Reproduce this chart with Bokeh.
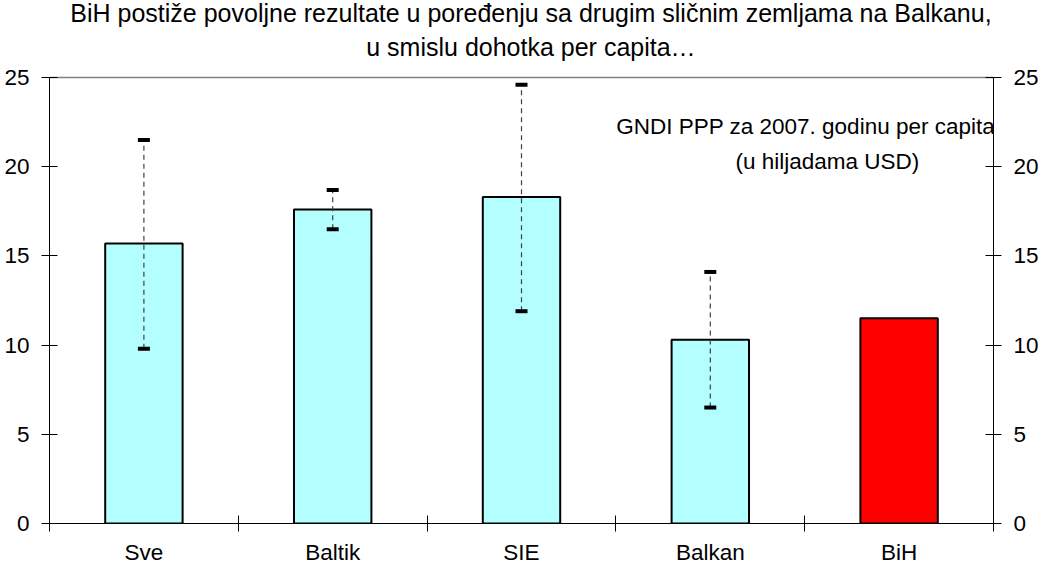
from bokeh.plotting import figure
from bokeh.models import (Range1d, FixedTicker, SingleIntervalTicker, LinearAxis,
                          Label, ColumnDataSource)
from bokeh.embed import file_html
from bokeh.resources import INLINE

# ---- data ----
categories = ["Sve", "Baltik", "SIE", "Balkan", "BiH"]
gndi_ppp = [15.7, 17.6, 18.3, 10.3, 11.5]          # thousands USD
range_high = [21.5, 18.7, 24.6, 14.1, None]
range_low = [9.8, 16.5, 11.9, 6.5, None]
y_min, y_max, y_step = 0, 25, 5

title_line1 = "BiH postiže povoljne rezultate u poređenju sa drugim sličnim zemljama na Balkanu,"
title_line2 = "u smislu dohotka per capita…"
note_line1 = "GNDI PPP za 2007. godinu per capita"
note_line2 = "(u hiljadama USD)"

FONT = "Liberation Sans"
TICK_FS = "22.5px"

n = len(categories)
xs = [i + 0.5 for i in range(n)]
fills = ["#FF0000" if c == "BiH" else "#B3FFFF" for c in categories]

# frame spans the full canvas height above the x axis; the value axis is
# bounded to 0..25 and the extra room on top holds the title text
PX_PER_UNIT = 447.7 / (y_max - y_min)
FRAME_H = 525
y_top = FRAME_H / PX_PER_UNIT

p = figure(width=1041, height=567, title=None,
           x_range=Range1d(0, n), y_range=Range1d(y_min, y_top),
           output_backend="svg", toolbar_location=None,
           min_border_left=49, min_border_right=45,
           min_border_top=0, min_border_bottom=42)
p.outline_line_color = None
p.background_fill_color = "white"
p.border_fill_color = "white"

# grid: only the gray line at the top of the value range
p.xgrid.visible = False
p.ygrid.ticker = FixedTicker(ticks=[y_max])
p.ygrid.grid_line_color = "#808080"
p.ygrid.grid_line_width = 1.5

# bars
src = ColumnDataSource(dict(x=xs, top=gndi_ppp, fill=fills))
p.vbar(x="x", top="top", width=0.41, source=src, fill_color="fill",
       line_color="black", line_width=2)

# error ranges
ex = [x for x, h in zip(xs, range_high) if h is not None]
hi = [h for h in range_high if h is not None]
lo = [l for l in range_low if l is not None]
p.segment(ex, lo, ex, hi, line_color="#404040", line_dash="5 4", line_width=1.2)
p.rect(ex, hi, width=12, height=4, width_units="screen", height_units="screen",
       fill_color="black", line_color=None)
p.rect(ex, lo, width=12, height=4, width_units="screen", height_units="screen",
       fill_color="black", line_color=None)

# x axis
xa = p.xaxis[0]
xa.ticker = FixedTicker(ticks=xs, minor_ticks=list(range(n + 1)))
xa.major_label_overrides = {x: c for x, c in zip(xs, categories)}
xa.major_tick_line_color = None
xa.major_tick_in = 0
xa.major_tick_out = 8
xa.minor_tick_in = 8
xa.minor_tick_out = 8
xa.minor_tick_line_color = "black"
xa.axis_line_color = "black"
xa.major_label_standoff = 8
xa.major_label_text_font = FONT
xa.major_label_text_font_size = TICK_FS
xa.major_label_text_color = "black"

# y axes
ra = LinearAxis()
p.add_layout(ra, "right")
for ax in (p.yaxis[0], ra):
    ax.ticker = SingleIntervalTicker(interval=y_step, num_minor_ticks=0)
    ax.bounds = (y_min, y_max)
    ax.major_tick_in = 8
    ax.major_tick_out = 8
    ax.minor_tick_line_color = None
    ax.axis_line_color = "black"
    ax.major_tick_line_color = "black"
    ax.major_label_standoff = 12
    ax.major_label_text_font = FONT
    ax.major_label_text_font_size = TICK_FS
    ax.major_label_text_color = "black"

# note
p.add_layout(Label(x=4.005, y=22.23, text=note_line1, text_align="center",
                   text_baseline="alphabetic", text_font=FONT, text_font_size=TICK_FS,
                   text_color="black"))
p.add_layout(Label(x=4.12, y=20.27, text=note_line2, text_align="center",
                   text_baseline="alphabetic", text_font=FONT, text_font_size=TICK_FS,
                   text_color="black"))

# title (two centred lines)
p.add_layout(Label(x=2.55, y=28.60, text=title_line1, text_align="center",
                   text_baseline="alphabetic", text_font=FONT, text_font_size="25px",
                   text_color="black"))
p.add_layout(Label(x=2.55, y=26.73, text=title_line2, text_align="center",
                   text_baseline="alphabetic", text_font=FONT, text_font_size="25px",
                   text_color="black"))

open("out.html", "w").write(file_html(p, INLINE))
